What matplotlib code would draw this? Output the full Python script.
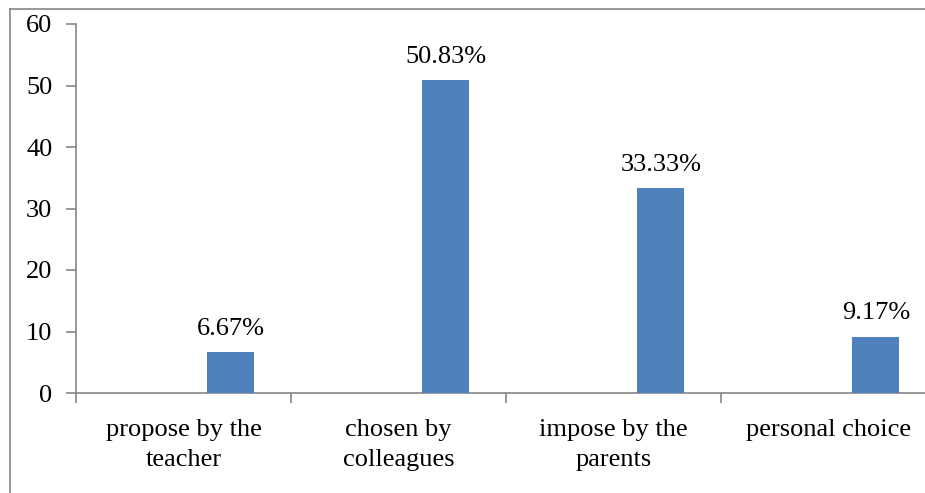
import matplotlib.pyplot as plt
from matplotlib.lines import Line2D

categories = ['propose by the\nteacher', 'chosen by\ncolleagues',
              'impose by the\nparents', 'personal choice']
values = [6.67, 50.83, 33.33, 9.17]
value_labels = ['6.67%', '50.83%', '33.33%', '9.17%']

plt.rcParams['font.family'] = ['Liberation Serif', 'DejaVu Serif']
axis_grey = '#868686'

fig = plt.figure(figsize=(9.25, 4.93), dpi=100)
ax = fig.add_axes([76 / 925, 1 - 393 / 493, 860 / 925, 369 / 493])

# bars sit right of each category centre (empty first series in the original)
xs = [i + 0.72 for i in range(len(values))]
ax.bar(xs, values, width=0.22, color='#4F81BD', zorder=3)
for x, v, lab in zip(xs, values, value_labels):
    ax.text(x, v + 2.0, lab, ha='center', va='bottom', fontsize=19)

ax.set_xlim(0, 4)
ax.set_ylim(0, 60)
ax.set_yticks(range(0, 61, 10))
ax.set_xticks(range(0, 5))
ax.set_xticklabels([])
ax.set_xticks([i + 0.5 for i in range(4)], minor=True)
ax.set_xticklabels(categories, minor=True, fontsize=19, linespacing=1.45)
ax.tick_params(axis='x', which='minor', length=0, pad=19)
ax.tick_params(axis='x', which='major', length=7, color=axis_grey, width=1.2)
ax.tick_params(axis='y', length=7, color=axis_grey, width=1.2, labelsize=19, pad=10)

for s in ['top', 'right']:
    ax.spines[s].set_visible(False)
for s in ['left', 'bottom']:
    ax.spines[s].set_color(axis_grey)
    ax.spines[s].set_linewidth(1.2)

# outer frame around the chart area (only left and top visible)
fig.add_artist(Line2D([10 / 925, 10 / 925], [0, 1 - 9 / 493],
                      transform=fig.transFigure, color=axis_grey, lw=1.2))
fig.add_artist(Line2D([10 / 925, 1], [1 - 9 / 493, 1 - 9 / 493],
                      transform=fig.transFigure, color=axis_grey, lw=1.2))

fig.savefig('out.png', dpi=100)
